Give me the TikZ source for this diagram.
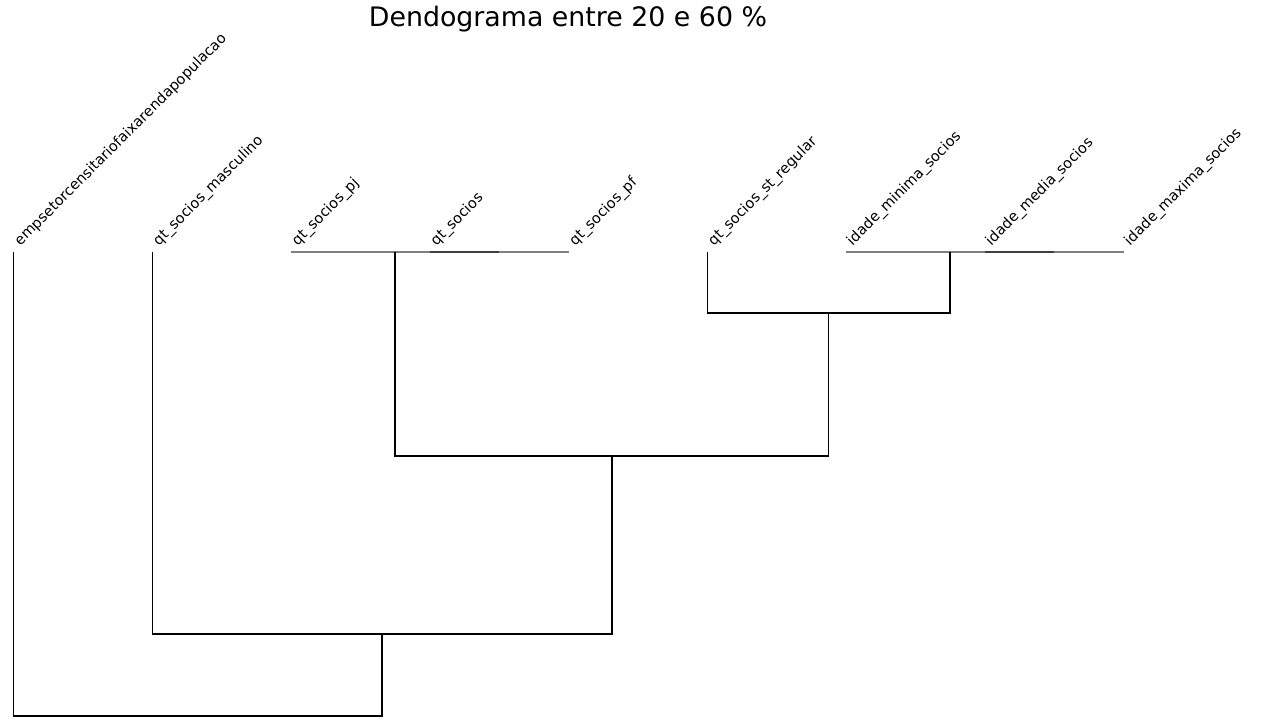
\documentclass[tikz,border=0pt]{standalone}
\usepackage{fontspec}
\setmainfont{DejaVu Sans}
\usetikzlibrary{calc}

\begin{document}
\begin{tikzpicture}[x=0.5pt, y=-0.5pt,
  leaf/.style={anchor=south west, rotate=45, inner sep=0pt, font=\fontsize{7.25}{9}\selectfont},
  link/.style={draw=black, line width=0.65pt},
  flat/.style={draw=black, line width=0.65pt, opacity=0.5}]
\useasboundingbox (0,0) rectangle (1264,726);
\node[anchor=base, inner sep=0pt, font=\fontsize{13.4}{16}\selectfont] (title) at (568,27) {Dendograma entre 20 e 60 \%};
% leaves with their labels
\foreach \name/\x/\txt in {emp/13.5/empsetorcensitariofaixarendapopulacao,
    masc/152.25/qt\_socios\_masculino, pj/291/qt\_socios\_pj, soc/429.75/qt\_socios,
    pf/568.5/qt\_socios\_pf, reg/707.25/qt\_socios\_st\_regular,
    imin/846/idade\_minima\_socios, imed/984.75/idade\_media\_socios,
    imax/1123.5/idade\_maxima\_socios}{
  \coordinate (\name) at (\x,252);
  \node[leaf] (\name-lbl) at (\x+9,249) {\txt};
}
% merge points
\coordinate (m1) at (499.1,252);
\coordinate (m2) at (395.1,252);
\coordinate (m3) at (1054.1,252);
\coordinate (m4) at (950.1,252);
\coordinate (m5) at (828.7,313);
\coordinate (m6) at (611.9,456);
\coordinate (m7) at (382.1,634);
\coordinate (m8) at (197.8,716);
% links at height zero
\draw[flat] (soc) -- (pf);
\draw[flat] (pj) -- (m1);
\draw[flat] (imed) -- (imax);
\draw[flat] (imin) -- (m3);
% links
\draw[link] (reg) |- (m5) -| (m4);
\draw[link] (m2) |- (m6) -| (m5);
\draw[link] (masc) |- (m7) -| (m6);
\draw[link] (emp) |- (m8) -| (m7);
\end{tikzpicture}
\end{document}
